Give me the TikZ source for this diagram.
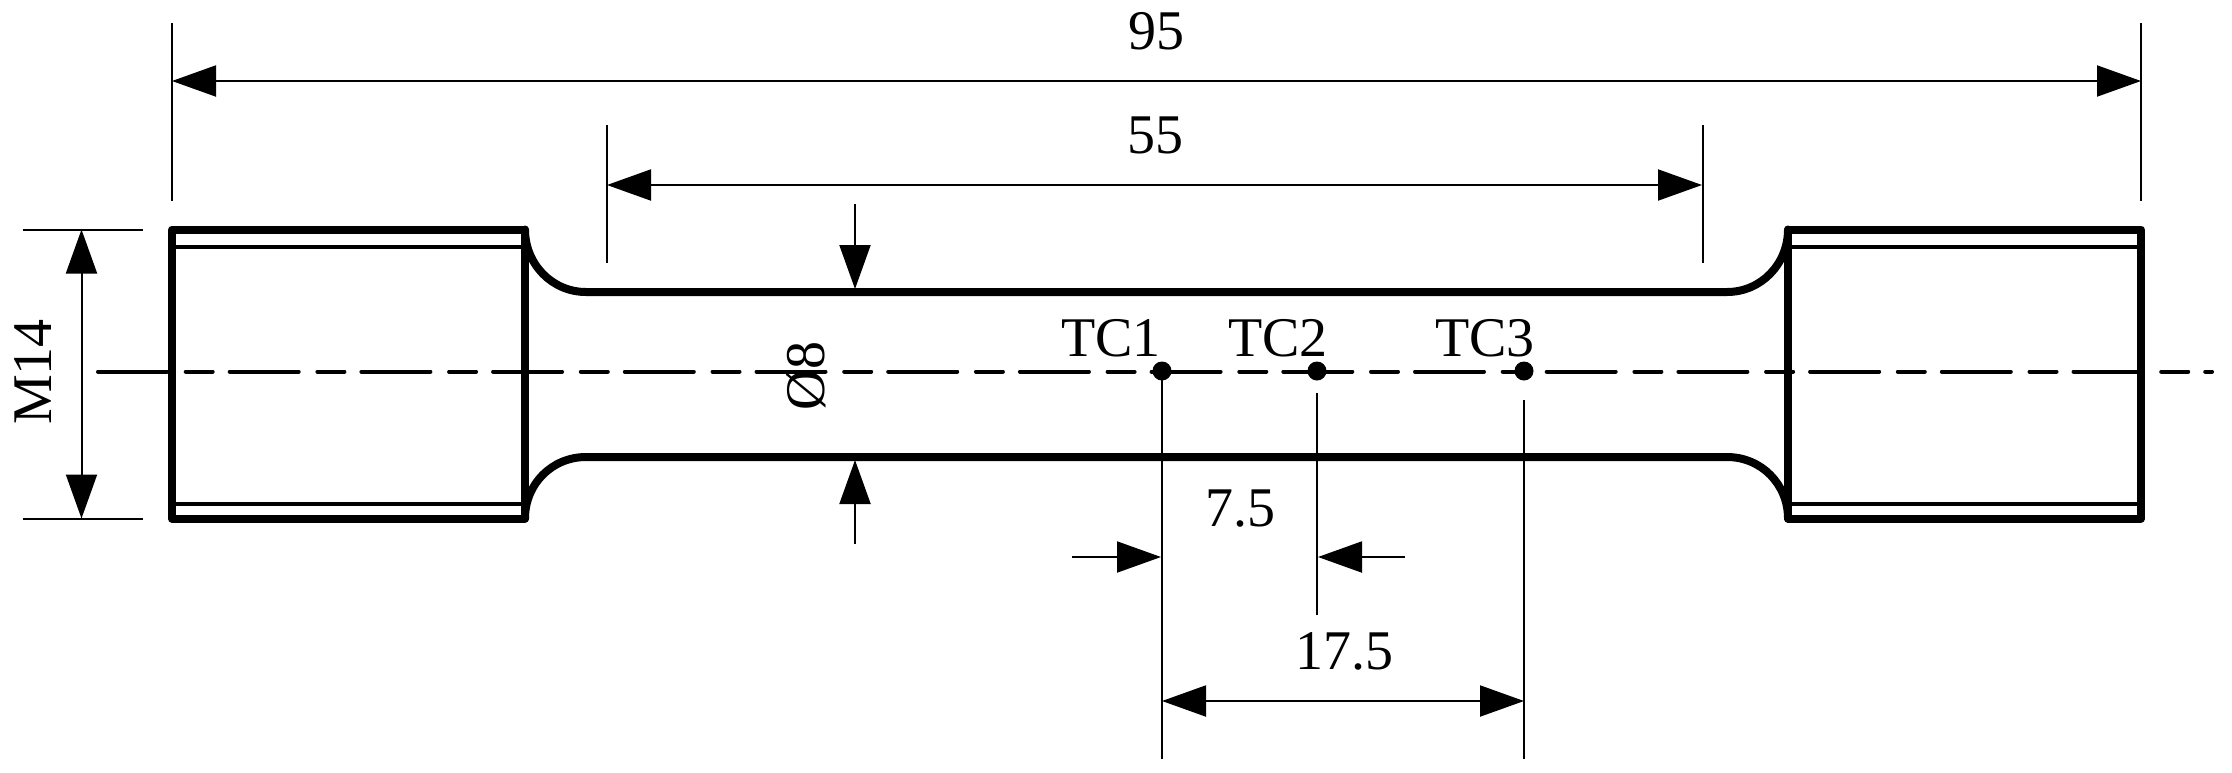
\documentclass[tikz,border=0pt]{standalone}
\usepackage{fontspec}
\setmainfont{Liberation Serif}
\usetikzlibrary{arrows.meta}
\tikzset{
  thickline/.style={line width=8pt,line join=round,line cap=round},
  innerline/.style={line width=4pt},
  thinline/.style={line width=2pt},
  dimline/.style={line width=2pt,{Triangle[length=44pt,width=31pt]}-{Triangle[length=44pt,width=31pt]}},
  dimsingle/.style={line width=2pt,-{Triangle[length=44pt,width=31pt]}},
  centerline/.style={line width=4pt,line cap=round,dash pattern=on 69pt off 18.7pt on 27pt off 17pt},
  label/.style={inner sep=0pt,font=\fontsize{56}{56}\selectfont},
  dot/.style={circle,fill=black,inner sep=0pt,minimum size=19pt}
}
\begin{document}
\begin{tikzpicture}[x=1pt,y=-1pt]
\useasboundingbox (0,0) rectangle (2232,772);
\fill[white] (0,0) rectangle (2232,772);
% named points
\coordinate (cl) at (98,371.5); \coordinate (cr) at (2212,371.5);
\coordinate (e95lt) at (172,23); \coordinate (e95lb) at (172,201);
\coordinate (e95rt) at (2141,23); \coordinate (e95rb) at (2141,201);
\coordinate (d95l) at (172,81); \coordinate (d95r) at (2141,81);
\coordinate (e55lt) at (606.5,125); \coordinate (e55lb) at (606.5,263);
\coordinate (e55rt) at (1702.5,125); \coordinate (e55rb) at (1702.5,263);
\coordinate (d55l) at (607,185); \coordinate (d55r) at (1702,185);
\coordinate (m14t0) at (23,229.5); \coordinate (m14t1) at (143,229.5);
\coordinate (m14b0) at (23,518.5); \coordinate (m14b1) at (143,518.5);
\coordinate (m14t) at (81.5,229.5); \coordinate (m14b) at (81.5,518.5);
\coordinate (o8t0) at (855,204); \coordinate (o8t) at (855,289);
\coordinate (o8b0) at (855,544); \coordinate (o8b) at (855,460);
\coordinate (t1b) at (1162,759); \coordinate (t2t) at (1317,393); \coordinate (t2b) at (1317,615);
\coordinate (t3t) at (1524,400); \coordinate (t3b) at (1524,759);
\coordinate (a75l0) at (1072,557); \coordinate (a75l) at (1161,557);
\coordinate (a75r0) at (1405,557); \coordinate (a75r) at (1318,557);
\coordinate (a175l) at (1162,701); \coordinate (a175r) at (1524,701);
% centre line
\draw[centerline] (cl) -- (cr);
% specimen outline
\draw[thickline] (172,229.5) rectangle (525,518.5);
\draw[thickline] (1788,229.5) rectangle (2141,518.5);
\draw[thickline] (525,229.5) .. controls (525,264) and (552,292) .. (586,292) -- (1727,292)
  .. controls (1761,292) and (1788,264) .. (1788,229.5);
\draw[thickline] (525,518.5) .. controls (525,484) and (552,457) .. (586,457) -- (1727,457)
  .. controls (1761,457) and (1788,484) .. (1788,518.5);
\draw[innerline] (172,246.5) -- (525,246.5);
\draw[innerline] (172,504) -- (525,504);
\draw[innerline] (1788,246.5) -- (2141,246.5);
\draw[innerline] (1788,504) -- (2141,504);
% extension lines
\draw[thinline] (e95lt) -- (e95lb);
\draw[thinline] (e95rt) -- (e95rb);
\draw[thinline] (e55lt) -- (e55lb);
\draw[thinline] (e55rt) -- (e55rb);
\draw[thinline] (m14t0) -- (m14t1);
\draw[thinline] (m14b0) -- (m14b1);
% dots
\node[dot] (tc1) at (1162,371) {};
\node[dot] (tc2) at (1317,371) {};
\node[dot] (tc3) at (1524,371) {};
\draw[thinline] (tc1.center) -- (t1b);
\draw[thinline] (t2t) -- (t2b);
\draw[thinline] (t3t) -- (t3b);
% dimensions
\draw[dimline] (d95l) -- (d95r);
\draw[dimline] (d55l) -- (d55r);
\draw[dimline] (m14t) -- (m14b);
\draw[dimline] (a175l) -- (a175r);
\draw[dimsingle] (o8t0) -- (o8t);
\draw[dimsingle] (o8b0) -- (o8b);
\draw[dimsingle] (a75l0) -- (a75l);
\draw[dimsingle] (a75r0) -- (a75r);
% labels
\node[label] (l95) at (1156,31) {95};
\node[label] (l55) at (1155,135) {55};
\node[label,rotate=90] (lm14) at (33,372) {M14};
\node[label,rotate=90] (lo8) at (806,376) {Ø8};
\node[label] (ltc1) at (1111,338) {TC1};
\node[label] (ltc2) at (1278,338) {TC2};
\node[label] (ltc3) at (1485,338) {TC3};
\node[label] (l75) at (1240,509) {7.5};
\node[label] (l175) at (1344,651) {17.5};
\end{tikzpicture}
\end{document}
